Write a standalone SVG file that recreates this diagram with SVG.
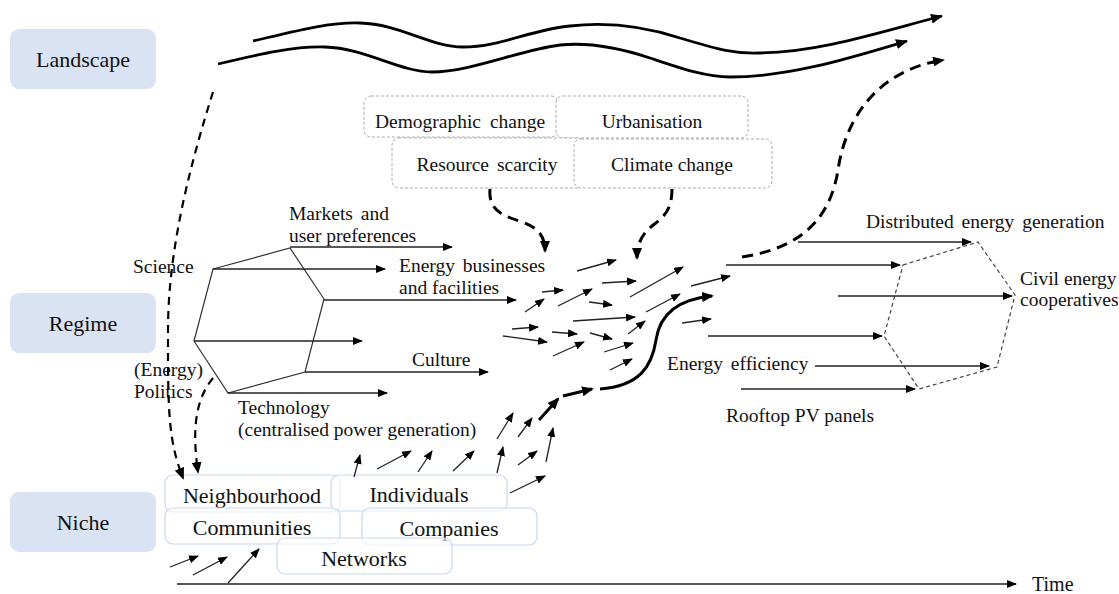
<svg xmlns="http://www.w3.org/2000/svg" width="1119" height="594" viewBox="0 0 1119 594">
<style>
text{font-family:"Liberation Serif","Times New Roman",serif;fill:#111}
.lvl{font-size:22px;text-anchor:middle}
.lab{font-size:19.5px}
.mid{text-anchor:middle}
.lvlbox{fill:#dae3f3;stroke:none}
.fbox{fill:#fff;stroke:#aaa;stroke-width:1;stroke-dasharray:3 2}
.nbox{fill:#fff;fill-opacity:0.6;stroke:#c9d7ef;stroke-width:1.2}
.thin{fill:none;stroke:#222;stroke-width:1.3;marker-end:url(#ah)}
.hex{fill:none;stroke:#333;stroke-width:1.2}
.hexd{fill:none;stroke:#444;stroke-width:1.2;stroke-dasharray:4 3}
.wave{fill:none;stroke:#000;stroke-width:2.8;marker-end:url(#ahw)}
.dash{fill:none;stroke:#000;stroke-width:2.2;stroke-dasharray:8 6;marker-end:url(#ahd)}
.dashb{fill:none;stroke:#000;stroke-width:3;stroke-dasharray:11 7;marker-end:url(#ahd)}
.thick{fill:none;stroke:#000;stroke-width:3;marker-end:url(#ahd)}
</style>
<defs>
<marker id="ah" markerUnits="userSpaceOnUse" markerWidth="10" markerHeight="8" refX="9" refY="4" orient="auto"><path d="M0,0 L10,4 L0,8 Z" fill="#000"/></marker>
<marker id="ahw" markerUnits="userSpaceOnUse" markerWidth="12" markerHeight="10" refX="11" refY="5" orient="auto"><path d="M0,0 L12,5 L0,10 Z" fill="#000"/></marker>
<marker id="ahd" markerUnits="userSpaceOnUse" markerWidth="12" markerHeight="10" refX="10" refY="5" orient="auto"><path d="M0,0 L12,5 L0,10 Z" fill="#000"/></marker>
</defs>

<g id="landscape"><rect class="lvlbox" x="10" y="29" width="146" height="60" rx="9"/><text class="lvl" x="83" y="67">Landscape</text></g>
<g id="regime"><rect class="lvlbox" x="10" y="293" width="146" height="60" rx="9"/><text class="lvl" x="83" y="331">Regime</text></g>
<g id="niche"><rect class="lvlbox" x="10" y="492" width="146" height="60" rx="9"/><text class="lvl" x="83" y="530">Niche</text></g>

<g id="landscape-factors">
<g id="demographic"><rect class="fbox" x="364" y="96" width="194" height="41" rx="7"/><text class="lab mid" x="460" y="128" word-spacing="4">Demographic change</text></g>
<g id="urbanisation"><rect class="fbox" x="556" y="96" width="192" height="42" rx="7"/><text class="lab mid" x="652" y="128">Urbanisation</text></g>
<g id="resource"><rect class="fbox" x="392" y="138" width="192" height="50" rx="7"/><text class="lab mid" x="487" y="171" word-spacing="3">Resource scarcity</text></g>
<g id="climate"><rect class="fbox" x="574" y="139" width="198" height="49" rx="7"/><text class="lab mid" x="672" y="171">Climate change</text></g>
</g>

<g id="regime-hexagon">
<polygon class="hex" points="213,269 290,248 324,299 305,372 228,393 194,341"/>
</g>
<g id="regime-labels">
<text class="lab" x="289" y="220" word-spacing="3">Markets and</text>
<text class="lab" x="289" y="242">user preferences</text>
<text class="lab" x="133" y="273">Science</text>
<text class="lab" x="399" y="272" word-spacing="3">Energy businesses</text>
<text class="lab" x="399" y="294">and facilities</text>
<text class="lab" x="412" y="366">Culture</text>
<text class="lab" x="134" y="376">(Energy)</text>
<text class="lab" x="134" y="398">Politics</text>
<text class="lab" x="238" y="414">Technology</text>
<text class="lab" x="238" y="436">(centralised power generation)</text>
</g>

<g id="new-regime">
<polygon class="hexd" points="903,265 978,242 1015,295 997,367 919,389 884,336"/>
<text class="lab" x="866" y="228" word-spacing="3">Distributed energy generation</text>
<text class="lab" x="1020" y="285">Civil energy</text>
<text class="lab" x="1020" y="306">cooperatives</text>
<text class="lab" x="667" y="370" word-spacing="3">Energy efficiency</text>
<text class="lab" x="726" y="422">Rooftop PV panels</text>
</g>

<g id="niche-actors">
<g id="neighbourhood"><rect class="nbox" x="165" y="475" width="175" height="37" rx="8"/><text class="lvl" x="252" y="503">Neighbourhood</text></g>
<g id="individuals"><rect class="nbox" x="331" y="475" width="176" height="36" rx="8"/><text class="lvl" x="419" y="502">Individuals</text></g>
<g id="communities"><rect class="nbox" x="165" y="508" width="175" height="36" rx="8"/><text class="lvl" x="252" y="535">Communities</text></g>
<g id="companies"><rect class="nbox" x="362" y="508" width="175" height="37" rx="8"/><text class="lvl" x="449" y="536">Companies</text></g>
<g id="networks"><rect class="nbox" x="277" y="538" width="175" height="36" rx="8"/><text class="lvl" x="364" y="566">Networks</text></g>
</g>

<g id="time-label"><text style="font-size:20px" x="1032" y="591">Time</text></g>

<g id="connectors">
<path class="wave" d="M253,41 C300,30 330,22 360,23 C400,24 430,47 463,47 C500,47 530,30 570,26 C605,22 640,25 680,38 C720,50 735,54 760,53 C820,52 880,32 942,16"/>
<path class="wave" d="M218,64 C260,54 295,46 325,47 C365,48 400,72 432,72 C470,72 520,50 560,45 C590,42 620,48 650,58 C680,68 705,77 730,77 C790,77 850,58 907,41"/>
<path class="dash" d="M213,92 C190,165 168,250 168,330 C168,410 168,440 183,478"/>
<path class="dash" d="M213,378 C195,400 192,430 198,472"/>
<path class="dashb" d="M490,189 C488,212 505,216 522,222 C540,228 545,238 545,251"/>
<path class="dashb" d="M672,189 C672,212 662,218 652,226 C642,234 637,244 637,258"/>
<path class="dashb" d="M742,257 C800,248 830,220 838,170 C846,115 880,70 943,60"/>
<path class="thin" d="M290,247 L452,247"/>
<path class="thin" d="M213,269 L385,269"/>
<path class="thin" d="M324,300 L516,300"/>
<path class="thin" d="M194,341 L362,341"/>
<path class="thin" d="M305,372 L488,372"/>
<path class="thin" d="M228,393 L387,393"/>
<path class="thin" d="M577,271 L616,260"/>
<path class="thin" d="M602,283 L636,281"/>
<path class="thin" d="M542,292 L563,290"/>
<path class="thin" d="M525,312 L544,299"/>
<path class="thin" d="M558,306 L592,289"/>
<path class="thin" d="M589,302 L612,305"/>
<path class="thin" d="M630,297 L683,267"/>
<path class="thin" d="M512,329 L538,327"/>
<path class="thin" d="M503,336 L547,342"/>
<path class="thin" d="M573,321 L635,317"/>
<path class="thin" d="M552,332 L577,334"/>
<path class="thin" d="M590,333 L612,339"/>
<path class="thin" d="M553,356 L584,342"/>
<path class="thin" d="M604,352 L633,343"/>
<path class="thin" d="M628,334 L645,321"/>
<path class="thin" d="M646,312 L680,294"/>
<path class="thin" d="M691,286 L730,276"/>
<path class="thin" d="M682,323 L711,319"/>
<path class="thin" d="M610,370 L632,359"/>
<path class="thin" d="M354,477 L360,455"/>
<path class="thin" d="M377,469 L411,451"/>
<path class="thin" d="M418,472 L432,451"/>
<path class="thin" d="M453,471 L474,451"/>
<path class="thin" d="M497,473 L503,447"/>
<path class="thin" d="M518,465 L537,451"/>
<path class="thin" d="M510,493 L545,476"/>
<path class="thin" d="M546,462 L553,428"/>
<path class="thin" d="M497,439 L513,413"/>
<path class="thin" d="M518,437 L532,418"/>
<path class="thin" d="M170,567 L198,556"/>
<path class="thin" d="M193,575 L227,557"/>
<path class="thin" d="M228,583 L259,549"/>
<path class="thick" d="M539,420 L558,399"/>
<path class="thick" d="M563,396 L592,389"/>
<path class="thick" d="M600,389 C640,386 652,366 656,340 C660,312 680,299 712,296"/>
<path class="thin" d="M798,242 L971,242"/>
<path class="thin" d="M726,265 L900,265"/>
<path class="thin" d="M838,296 L1012,296"/>
<path class="thin" d="M708,336 L882,336"/>
<path class="thin" d="M815,366 L989,366"/>
<path class="thin" d="M741,389 L915,389"/>
<path class="thin" d="M177,584 L1016,584" style="stroke:#555;stroke-width:2"/>
</g>
</svg>
